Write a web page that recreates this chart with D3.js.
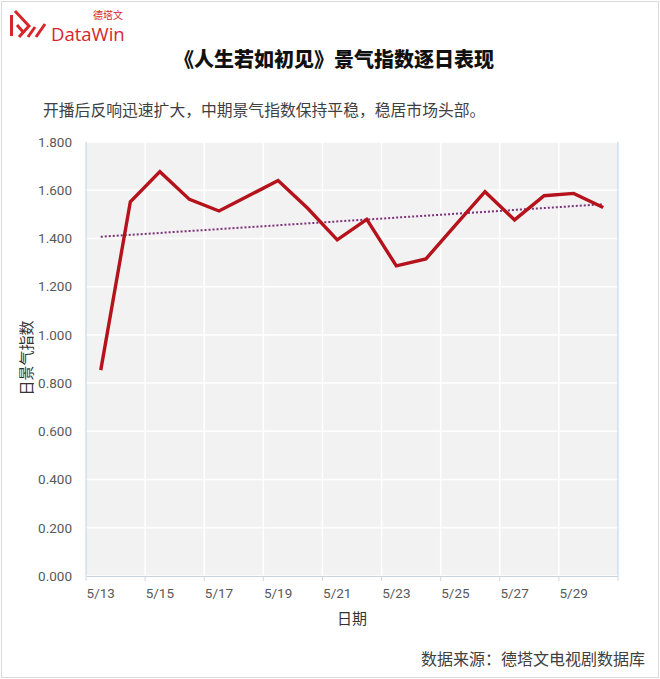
<!DOCTYPE html>
<html><head><meta charset="utf-8">
<script src="https://cdn.jsdelivr.net/npm/d3@7"></script>
<style>
html,body{margin:0;padding:0;background:#fff;}
svg{display:block;font-family:"Noto Sans CJK SC","Noto Sans",sans-serif;}
</style></head>
<body>
<script>
const categories = ["5/13","5/14","5/15","5/16","5/17","5/18","5/19","5/20","5/21","5/22","5/23","5/24","5/25","5/26","5/27","5/28","5/29","5/30"];
const values = [0.854,1.552,1.677,1.562,1.514,1.577,1.640,1.525,1.394,1.479,1.286,1.315,1.455,1.594,1.477,1.577,1.587,1.528];
const trendValues = [1.407,1.542];
const yTicks = [0,0.2,0.4,0.6,0.8,1.0,1.2,1.4,1.6,1.8];
const xLabels = ["5/13","5/15","5/17","5/19","5/21","5/23","5/25","5/27","5/29"];

const W=660,H=679;
const svg=d3.select("body").append("svg").attr("width",W).attr("height",H);
svg.append("rect").attr("x",1.5).attr("y",1.5).attr("width",W-3).attr("height",H-3).attr("fill","#fff").attr("stroke","#d9d9d9");

const L=86,R=618,T=142,B=576;
const x=d3.scaleBand().domain(categories).range([L,R]);
const y=d3.scaleLinear().domain([0,1.8]).range([B,T]);

svg.append("rect").attr("x",L).attr("y",T).attr("width",R-L).attr("height",B-T).attr("fill","#f2f2f2");

svg.append("g").selectAll("line").data(yTicks).join("line")
 .attr("x1",L).attr("x2",R).attr("y1",d=>y(d)).attr("y2",d=>y(d))
 .attr("stroke","#ffffff").attr("stroke-width",1.5);
const gridCats = categories.filter((d,i)=>i%2===0 && i>0);
svg.append("g").selectAll("line").data(gridCats).join("line")
 .attr("x1",d=>x(d)).attr("x2",d=>x(d)).attr("y1",T).attr("y2",B)
 .attr("stroke","#ffffff").attr("stroke-width",1.5);

svg.append("line").attr("x1",L).attr("x2",L).attr("y1",T).attr("y2",B).attr("stroke","#b7d3e6").attr("stroke-width",1);
svg.append("line").attr("x1",R).attr("x2",R).attr("y1",T).attr("y2",B).attr("stroke","#b7d3e6").attr("stroke-width",1);

const yAxis=svg.append("g").attr("transform",`translate(${L},0)`)
 .call(d3.axisLeft(y).tickValues(yTicks).tickFormat(d3.format(".3f")).tickSize(0).tickPadding(14));
yAxis.select(".domain").remove();
yAxis.selectAll("text").attr("font-size",13.5).attr("fill","#595959").attr("font-family","Roboto,'Noto Sans',sans-serif");

const xAxis=svg.append("g").attr("transform",`translate(0,${B})`)
 .call(d3.axisBottom(x).tickValues(xLabels).tickSize(0).tickPadding(12));
xAxis.select(".domain").attr("stroke","#c9d3dc");
xAxis.selectAll("text").attr("font-size",13.5).attr("fill","#595959").attr("font-family","Roboto,'Noto Sans',sans-serif");
const tickCats = categories.filter((d,i)=>i%2===0);
svg.append("g").selectAll("line").data(tickCats.concat(["end"])).join("line")
 .attr("x1",d=>d==="end"?R:x(d)).attr("x2",d=>d==="end"?R:x(d))
 .attr("y1",B).attr("y2",B+5).attr("stroke","#d0d7de");

const cx=d=>x(d)+x.bandwidth()/2;
const trendPts=[[cx(categories[0]),y(trendValues[0])],[cx(categories[categories.length-1]),y(trendValues[1])]];
svg.append("path").attr("d",d3.line()(trendPts)).attr("fill","none")
 .attr("stroke","#7a3577").attr("stroke-width",2).attr("stroke-dasharray","2,2");

const line=d3.line().x((d,i)=>cx(categories[i])).y(d=>y(d));
svg.append("path").datum(values).attr("d",line).attr("fill","none")
 .attr("stroke","#b5121b").attr("stroke-width",3.4).attr("stroke-linejoin","miter");

svg.append("text").attr("x",334).attr("y",67).attr("text-anchor","middle")
 .attr("font-size",20).attr("font-weight","900").attr("fill","#111").text("《人生若如初见》景气指数逐日表现");
svg.append("text").attr("x",43).attr("y",116).attr("font-size",15.8).attr("fill","#404040")
 .text("开播后反响迅速扩大，中期景气指数保持平稳，稳居市场头部。");
svg.append("text").attr("x",352).attr("y",624).attr("text-anchor","middle")
 .attr("font-size",15).attr("fill","#333").text("日期");
svg.append("text").attr("transform","translate(32,358) rotate(-90)").attr("text-anchor","middle")
 .attr("font-size",15).attr("fill","#333").text("日景气指数");
svg.append("text").attr("x",645).attr("y",665).attr("text-anchor","end")
 .attr("font-size",16).attr("fill","#404040").text("数据来源：德塔文电视剧数据库");

const lg=svg.append("g").attr("fill","none").attr("stroke","#d7262b").attr("stroke-width",3).attr("stroke-linecap","butt");
lg.append("path").attr("d","M11.5,15 L11.5,36");
lg.append("path").attr("d","M15,11 L29,26 L19,37");
lg.append("path").attr("d","M17,25 L24,33");
lg.append("path").attr("d","M28,37 L35,27");
lg.append("path").attr("d","M36,37 L45,24");
svg.append("text").attr("x",51).attr("y",41).attr("font-size",18.5).attr("fill","#d7262b")
 .attr("font-family","'Open Sans','Noto Sans',sans-serif").text("DataWin");
svg.append("text").attr("x",93).attr("y",18.5).attr("font-size",10).attr("fill","#d7262b").text("德塔文");
</script>
</body></html>
